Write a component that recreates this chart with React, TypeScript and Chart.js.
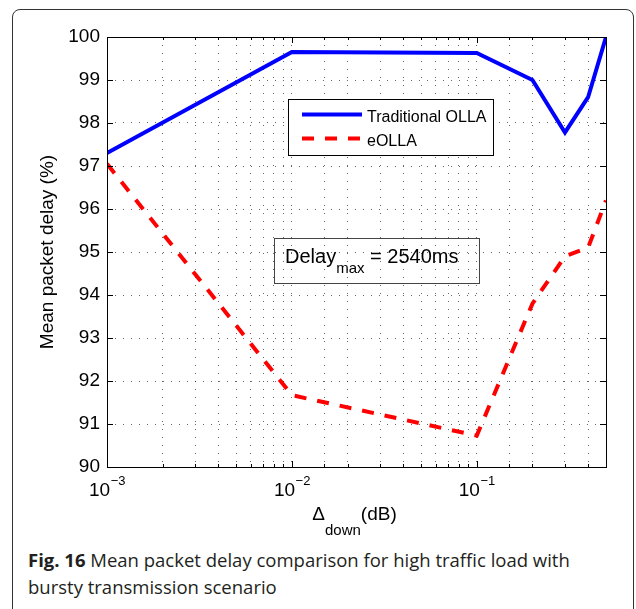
import React, { useEffect, useRef } from 'react';
import { Chart, registerables } from 'chart.js';

Chart.register(...registerables);

// ---- data ----
const deltaDown = [0.001, 0.01, 0.1, 0.2, 0.3, 0.4, 0.5];
const traditionalOLLA = [97.3, 99.65, 99.63, 99.0, 97.78, 98.6, 100];
const eOLLA = [97.05, 91.67, 90.73, 93.8, 94.9, 95.1, 96.2];
const seriesNames = ['Traditional OLLA', 'eOLLA'];
const xMajorTicks = [0.001, 0.01, 0.1];
const xMajorExponents = ['\u22123', '\u22122', '\u22121'];
const yMin = 90;
const yMax = 100;
const xMin = 0.001;
const xMax = 0.5;
const yTitle = 'Mean packet delay (%)';
const xTitleParts = ['\u0394', 'down', '(dB)'];
const noteParts = ['Delay', 'max', ' = 2540ms'];

const FONT = '"Liberation Sans", Arial, Helvetica, sans-serif';

const decor = {
  id: 'decor',
  afterDraw(chart: any) {
    const { ctx, chartArea: a, scales } = chart;
    const x = scales.x;
    const y = scales.y;
    ctx.save();
    ctx.strokeStyle = '#000';
    ctx.lineWidth = 1;
    ctx.setLineDash([]);
    // inward tick marks
    ctx.beginPath();
    x.ticks.forEach((t: any) => {
      const px = Math.round(x.getPixelForValue(t.value)) + 0.5;
      const major = xMajorTicks.some((v) => Math.abs(Math.log10(v) - Math.log10(t.value)) < 1e-6);
      const len = major ? 6 : 3;
      ctx.moveTo(px, a.bottom);
      ctx.lineTo(px, a.bottom - len);
      ctx.moveTo(px, a.top);
      ctx.lineTo(px, a.top + len);
    });
    y.ticks.forEach((t: any) => {
      const py = Math.round(y.getPixelForValue(t.value)) + 0.5;
      ctx.moveTo(a.left, py);
      ctx.lineTo(a.left + 6, py);
      ctx.moveTo(a.right, py);
      ctx.lineTo(a.right - 6, py);
    });
    ctx.stroke();
    // axes box
    ctx.strokeRect(
      Math.round(a.left) + 0.5,
      Math.round(a.top) + 0.5,
      Math.round(a.right - a.left),
      Math.round(a.bottom - a.top)
    );

    // x tick labels 10^n
    ctx.fillStyle = '#000';
    ctx.textBaseline = 'alphabetic';
    ctx.textAlign = 'left';
    xMajorTicks.forEach((v, i) => {
      const px = x.getPixelForValue(v);
      ctx.font = `19px ${FONT}`;
      const wBase = ctx.measureText('10').width;
      ctx.font = `13px ${FONT}`;
      const wExp = ctx.measureText(xMajorExponents[i]).width;
      const start = px - (wBase + wExp) / 2;
      ctx.font = `19px ${FONT}`;
      ctx.fillText('10', start, a.bottom + 29);
      ctx.font = `13px ${FONT}`;
      ctx.fillText(xMajorExponents[i], start + wBase + 0.5, a.bottom + 18);
    });

    // x title
    ctx.font = `19px ${FONT}`;
    const w0 = ctx.measureText(xTitleParts[0]).width;
    const w2 = ctx.measureText(xTitleParts[2]).width;
    ctx.font = `15px ${FONT}`;
    const w1 = ctx.measureText(xTitleParts[1]).width;
    const cx = (a.left + a.right) / 2;
    const sx = cx - (w0 + w1 + w2) / 2 - 2;
    ctx.font = `19px ${FONT}`;
    ctx.fillText(xTitleParts[0], sx, a.bottom + 53);
    ctx.font = `15px ${FONT}`;
    ctx.fillText(xTitleParts[1], sx + w0, a.bottom + 68);
    ctx.font = `19px ${FONT}`;
    ctx.fillText(xTitleParts[2], sx + w0 + w1, a.bottom + 53);

    // y title
    ctx.save();
    ctx.translate(a.left - 54, (a.top + a.bottom) / 2);
    ctx.rotate(-Math.PI / 2);
    ctx.textAlign = 'center';
    ctx.font = `19px ${FONT}`;
    ctx.fillText(yTitle, 0, 0);
    ctx.restore();

    // legend
    const lx = Math.round(a.left) + 181.5;
    const ly = Math.round(a.top) + 62.5;
    ctx.fillStyle = '#fff';
    ctx.fillRect(lx, ly, 205, 56);
    ctx.strokeStyle = '#000';
    ctx.lineWidth = 1;
    ctx.strokeRect(lx, ly, 205, 56);
    chart.data.datasets.forEach((ds: any, i: number) => {
      const yy = ly + 15 + i * 24;
      ctx.beginPath();
      ctx.strokeStyle = ds.borderColor;
      ctx.lineWidth = ds.borderWidth;
      ctx.setLineDash(ds.borderDash || []);
      ctx.moveTo(lx + 13.5, yy);
      ctx.lineTo(lx + 73.5, yy);
      ctx.stroke();
      ctx.setLineDash([]);
      ctx.fillStyle = '#000';
      ctx.font = `16px ${FONT}`;
      ctx.textAlign = 'left';
      ctx.fillText(ds.label, lx + 78.5, yy + 7);
    });

    // annotation box
    const bx = Math.round(a.left) + 167.5;
    const by = Math.round(a.top) + 201.5;
    ctx.strokeStyle = '#444';
    ctx.lineWidth = 1;
    ctx.strokeRect(bx, by, 205, 45);
    ctx.fillStyle = '#000';
    ctx.font = `20px ${FONT}`;
    ctx.fillText(noteParts[0], bx + 10.5, by + 24);
    const dw = ctx.measureText(noteParts[0]).width;
    ctx.font = `15px ${FONT}`;
    ctx.fillText(noteParts[1], bx + 10.5 + dw, by + 34);
    const mw = ctx.measureText(noteParts[1]).width;
    ctx.font = `20px ${FONT}`;
    ctx.fillText(noteParts[2], bx + 10.5 + dw + mw, by + 24);

    ctx.restore();
  },
};

export default function App() {
  const ref = useRef<HTMLCanvasElement | null>(null);
  useEffect(() => {
    if (!ref.current) return;
    const chart = new Chart(ref.current, {
      type: 'line',
      data: {
        datasets: [
          {
            label: seriesNames[0],
            data: deltaDown.map((v, i) => ({ x: v, y: traditionalOLLA[i] })),
            borderColor: '#0000ff',
            borderWidth: 4,
            pointRadius: 0,
            tension: 0,
            fill: false,
          },
          {
            label: seriesNames[1],
            data: deltaDown.map((v, i) => ({ x: v, y: eOLLA[i] })),
            borderColor: '#ff0000',
            borderWidth: 4,
            borderDash: [12, 11],
            pointRadius: 0,
            tension: 0,
            fill: false,
          },
        ],
      },
      options: {
        animation: false,
        responsive: false,
        devicePixelRatio: 1,
        layout: { padding: { top: 37, right: 30, left: 0, bottom: 0 } },
        plugins: { legend: { display: false }, tooltip: { enabled: false } },
        scales: {
          x: {
            type: 'logarithmic',
            min: xMin,
            max: xMax,
            ticks: { display: false },
            grid: { color: 'rgba(0,0,0,0.6)', lineWidth: 1, drawTicks: false },
            border: { display: false, dash: [1, 7] },
            afterFit: (s: any) => {
              s.height = 78;
            },
          },
          y: {
            type: 'linear',
            min: yMin,
            max: yMax,
            ticks: {
              stepSize: 1,
              color: '#000',
              padding: 7,
              font: { family: FONT, size: 19 },
            },
            grid: { color: 'rgba(0,0,0,0.6)', lineWidth: 1, drawTicks: false },
            border: { display: false, dash: [1, 7] },
            afterFit: (s: any) => {
              s.width = 107;
            },
          },
        },
      },
      plugins: [decor],
    } as any);
    return () => chart.destroy();
  }, []);

  return (
    <div>
      <div
        style={{
          position: 'absolute',
          left: 12,
          top: 9,
          width: 622,
          height: 640,
          border: '1px solid #333',
          borderRadius: 8,
          boxSizing: 'border-box',
        }}
      />
      <canvas
        ref={ref}
        width={636}
        height={545}
        style={{ position: 'absolute', left: 0, top: 0, width: 636, height: 545 }}
      />
      <div
        style={{
          position: 'absolute',
          left: 28,
          top: 546,
          width: 600,
          fontFamily: '"Open Sans", "Noto Sans", sans-serif',
          fontSize: 18.5,
          lineHeight: '27px',
          color: '#231f20',
          whiteSpace: 'nowrap',
        }}
      >
        <b>Fig. 16</b> Mean packet delay comparison for high traffic load with
        <br />
        bursty transmission scenario
      </div>
    </div>
  );
}
